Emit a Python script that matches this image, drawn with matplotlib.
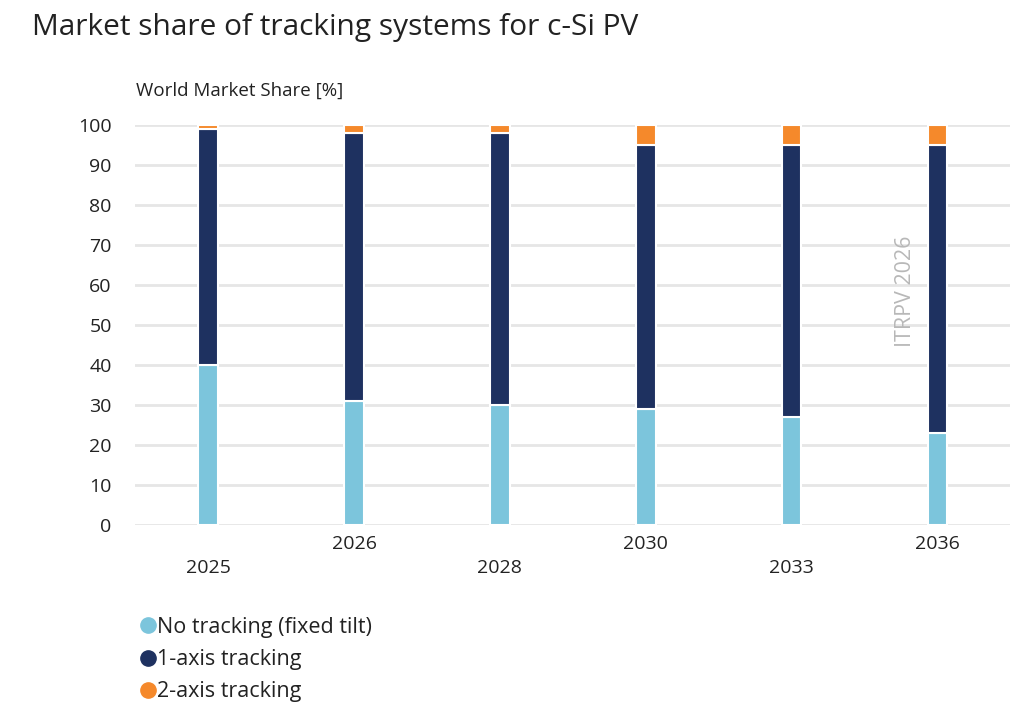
import matplotlib
matplotlib.use("Agg")
import matplotlib.pyplot as plt
from matplotlib.lines import Line2D
import numpy as np

years = ["2025", "2026", "2028", "2030", "2033", "2036"]
no_tracking = [40, 31, 30, 29, 27, 23]
one_axis = [59, 67, 68, 66, 68, 72]
two_axis = [1, 2, 2, 5, 5, 5]

c_no = "#7cc5dc"
c_one = "#1e3160"
c_two = "#f5892b"

plt.rcParams['font.family'] = ['Open Sans', 'DejaVu Sans']

fig = plt.figure(figsize=(10.33, 7.14), dpi=100)
ax = fig.add_axes([0.131, 0.265, 0.847, 0.56])

x = np.arange(len(years))
w = 0.135
b1 = np.array(no_tracking)
b2 = b1 + np.array(one_axis)
ax.bar(x, no_tracking, w, color=c_no, edgecolor="white", linewidth=1.5, zorder=3)
ax.bar(x, one_axis, w, bottom=b1, color=c_one, edgecolor="white", linewidth=1.5, zorder=3)
ax.bar(x, two_axis, w, bottom=b2, color=c_two, edgecolor="white", linewidth=1.5, zorder=3)

ax.set_xlim(-0.5, 5.5)
ax.set_ylim(0, 100)
ax.set_yticks(range(0, 101, 10))
ax.yaxis.grid(True, color="#e6e6e6", linewidth=2, zorder=0)
ax.set_axisbelow(True)
for s in ax.spines.values():
    s.set_visible(False)
ax.tick_params(axis='y', length=0, labelsize=14, colors="#222222", pad=17)
ax.tick_params(axis='x', length=0)
ax.set_xticks(x)
ax.set_xticklabels([""] * len(years))
for i, yr in enumerate(years):
    off = -0.109 if i % 2 == 0 else -0.047
    ax.text(i, off, yr, transform=ax.get_xaxis_transform(), ha='center', va='center',
            fontsize=14, color="#222222")

fig.text(0.031, 0.962, "Market share of tracking systems for c-Si PV", fontsize=21.5,
         color="#222222", ha='left', va='center')
fig.text(0.132, 0.873, "World Market Share [%]", fontsize=13.5, color="#222222",
         ha='left', va='center')
ax.text(4.78, 58.5, "ITRPV 2026", rotation=90, fontsize=15.5, color="#b8b8b8",
        ha='center', va='center', zorder=4)

handles = [Line2D([], [], marker='o', linestyle='none', markersize=11, color=c)
           for c in (c_no, c_one, c_two)]
fig.legend(handles, ["No tracking (fixed tilt)", "1-axis tracking", "2-axis tracking"],
           loc='upper left', bbox_to_anchor=(0.123, 0.148), frameon=False,
           fontsize=15.5, handletextpad=-0.1, labelspacing=0.52, handlelength=1.1,
           borderaxespad=0, labelcolor="#222222")

fig.savefig("out.png", dpi=100)
